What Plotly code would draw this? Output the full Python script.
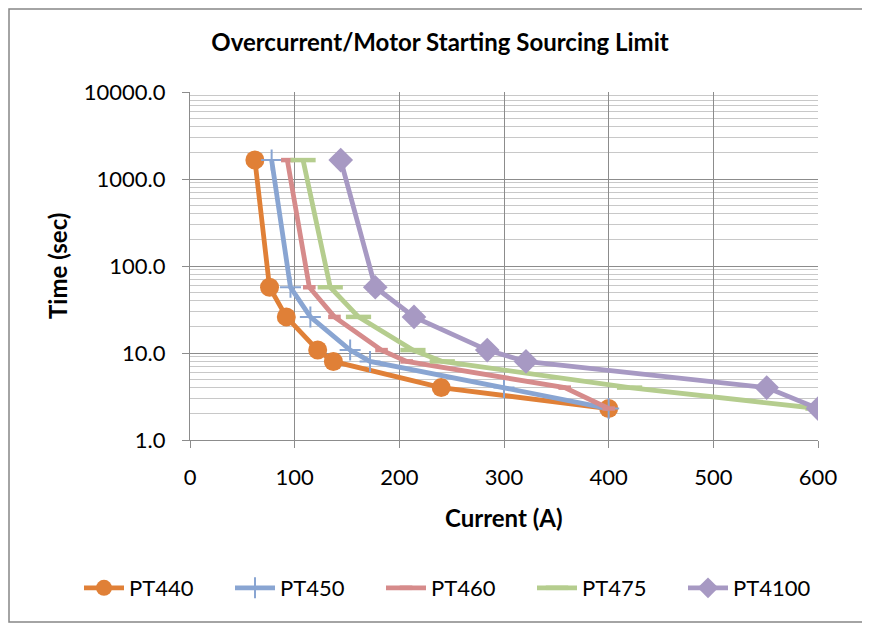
import plotly.graph_objects as go

# Data
times = [1650, 57, 26, 10.8, 8.0, 4.0, 2.3]
pt440_current = [62, 76, 92, 122, 137, 240, 400]
pt450_current = [78, 96, 115, 153, 172, 300, 400]
pt460_current = [93, 114, 138, 183, 207, 358, 400]
pt475_current = [108, 134, 161, 213, 241, 420, 600]
pt4100_current = [144, 177, 214, 284, 321, 551, 600]

series_names = ["PT440", "PT450", "PT460", "PT475", "PT4100"]
series_currents = [pt440_current, pt450_current, pt460_current, pt475_current, pt4100_current]
colors = ["#E08037", "#89A5D2", "#D68B8B", "#B5CD8E", "#A799C3"]
markers = [
    dict(symbol="circle", size=19),
    dict(symbol="cross-thin", size=15, line=dict(width=2)),
    dict(symbol="line-ew", size=9, line=dict(width=4.5)),
    dict(symbol="line-ew", size=18, line=dict(width=4.5)),
    dict(symbol="diamond", size=19),
]

y_tickvals = [1, 10, 100, 1000, 10000]
y_ticktext = ["1.0", "10.0", "100.0", "1000.0", "10000.0"]
x_tickvals = [0, 100, 200, 300, 400, 500, 600]

FONT = "Lato"
OFF = 8  # page body margin offset

fig = go.Figure()
for name, cur, col, mk in zip(series_names, series_currents, colors, markers):
    m = dict(mk)
    m["color"] = col
    if "line" in m:
        m["line"] = dict(m["line"], color=col)
    fig.add_trace(go.Scatter(
        x=cur, y=times, name=name, mode="lines+markers",
        line=dict(color=col, width=4.8),
        marker=m,
    ))

# plot area in reference px: x 190..818, y 92..440
PX0, PX1, PY0, PY1 = 190, 818, 92, 440
W, H = 870 - OFF, 626 - OFF
L, T = PX0 - OFF, PY0 - OFF
pw, ph = PX1 - PX0, PY1 - PY0
R, B = W - L - pw, H - T - ph

def px_x(p):
    return (p - PX0) / pw

def px_y(p):
    return (PY1 - p) / ph

fig.update_layout(
    width=W, height=H,
    margin=dict(l=L, r=R, t=T, b=B),
    paper_bgcolor="white", plot_bgcolor="white",
    font=dict(family=FONT, size=22, color="black"),
    title=dict(text="<b>Overcurrent/Motor Starting Sourcing Limit</b>",
               x=(440 - OFF) / W, xref="container", xanchor="center",
               y=1 - (43 - OFF) / H, yref="container", yanchor="middle",
               font=dict(family=FONT, size=24, color="black")),
    showlegend=True,
    legend=dict(orientation="h", x=px_x(79), xanchor="left",
                y=px_y(588), yanchor="middle",
                font=dict(family=FONT, size=22),
                entrywidth=96, itemwidth=40, tracegroupgap=0),
    shapes=[dict(type="rect", xref="paper", yref="paper",
                 x0=px_x(OFF + 1), x1=px_x(866), y0=px_y(622), y1=px_y(OFF + 1),
                 line=dict(color="#868686", width=1.5), fillcolor="rgba(0,0,0,0)",
                 layer="below")],
    annotations=[
        dict(text="<b>Current (A)</b>", xref="paper", yref="paper",
             x=0.5, y=px_y(517), xanchor="center", yanchor="middle",
             showarrow=False, font=dict(family=FONT, size=24)),
        dict(text="<b>Time (sec)</b>", xref="paper", yref="paper",
             x=px_x(57), y=px_y(266), xanchor="center", yanchor="middle",
             textangle=-90, showarrow=False, font=dict(family=FONT, size=24)),
    ],
)

fig.update_xaxes(
    range=[0, 600], tickvals=x_tickvals,
    showgrid=True, gridcolor="#8C8C8C", gridwidth=1.2,
    showline=True, linecolor="#8C8C8C", linewidth=1.2,
    ticks="outside", ticklen=7, tickcolor="#8C8C8C",
    ticklabelstandoff=10,
    zeroline=False,
    tickfont=dict(family=FONT, size=22),
)
fig.update_yaxes(
    type="log", range=[0, 4], tickvals=y_tickvals, ticktext=y_ticktext,
    showgrid=True, gridcolor="#8C8C8C", gridwidth=1.2,
    showline=True, linecolor="#8C8C8C", linewidth=1.2,
    ticks="outside", ticklen=7, tickcolor="#8C8C8C",
    ticklabelstandoff=12,
    minor=dict(dtick="D1", showgrid=True, gridcolor="#C8C8C8", gridwidth=1, ticks=""),
    zeroline=False,
    tickfont=dict(family=FONT, size=22),
)

fig.write_html("out.html")
